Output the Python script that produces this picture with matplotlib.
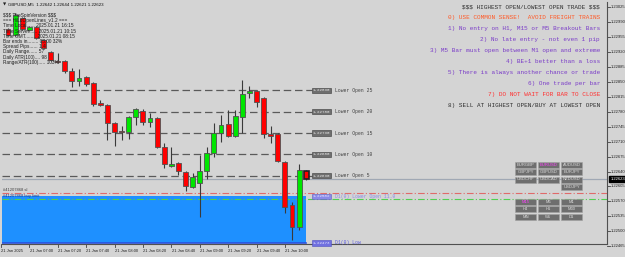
import matplotlib
matplotlib.use("Agg")
import matplotlib.pyplot as plt
from matplotlib.patches import Rectangle

plt.rcParams["text.parse_math"] = False

W, H = 625, 257

# M5 candles, 21 Jan 06:45 .. 10:15
opens = [1.22974, 1.22960, 1.22999, 1.22972, 1.22978, 1.22948, 1.22920, 1.22899, 1.22899, 1.22875,
         1.22852, 1.22861, 1.22847, 1.22800, 1.22796, 1.22754, 1.22735, 1.22733, 1.22768, 1.22782,
         1.22756, 1.22765, 1.22697, 1.22653, 1.22660, 1.22639, 1.22604, 1.22613, 1.22641, 1.22683,
         1.22730, 1.22751, 1.22723, 1.22768, 1.22824, 1.22828, 1.22812, 1.22728, 1.22728, 1.22662,
         1.22562, 1.22510, 1.22642]
highs = [1.22976, 1.23011, 1.23002, 1.22980, 1.22980, 1.22950, 1.22922, 1.22917, 1.22901, 1.22882,
         1.22880, 1.22863, 1.22849, 1.22807, 1.22798, 1.22756, 1.22747, 1.22770, 1.22789, 1.22786,
         1.22777, 1.22768, 1.22707, 1.22697, 1.22662, 1.22641, 1.22637, 1.22679, 1.22697, 1.22754,
         1.22772, 1.22784, 1.22784, 1.22854, 1.22840, 1.22830, 1.22814, 1.22747, 1.22730, 1.22665,
         1.22569, 1.22658, 1.22644]
lows = [1.22958, 1.22958, 1.22972, 1.22968, 1.22950, 1.22927, 1.22899, 1.22894, 1.22871, 1.22838,
        1.22840, 1.22840, 1.22793, 1.22793, 1.22714, 1.22700, 1.22714, 1.22716, 1.22749, 1.22749,
        1.22744, 1.22695, 1.22648, 1.22651, 1.22632, 1.22594, 1.22601, 1.22534, 1.22623, 1.22674,
        1.22709, 1.22721, 1.22721, 1.22730, 1.22812, 1.22791, 1.22718, 1.22707, 1.22662, 1.22543,
        1.22480, 1.22503, 1.22621]
closes = [1.22960, 1.23006, 1.22974, 1.22978, 1.22952, 1.22929, 1.22901, 1.22896, 1.22875, 1.22852,
          1.22859, 1.22845, 1.22798, 1.22796, 1.22754, 1.22733, 1.22733, 1.22768, 1.22786, 1.22756,
          1.22765, 1.22697, 1.22658, 1.22658, 1.22641, 1.22606, 1.22627, 1.22641, 1.22683, 1.22730,
          1.22749, 1.22723, 1.22770, 1.22821, 1.22828, 1.22803, 1.22728, 1.22723, 1.22665, 1.22557,
          1.22510, 1.22644, 1.22623]

level_prices = [1.22830, 1.22780, 1.22730, 1.22680, 1.22630]
level_names = ["Lower Open 25", "Lower Open 20", "Lower Open 15", "Lower Open 10", "Lower Open 5"]
d1_lower_open = 1.22582
d1_low = 1.22473
bid = 1.22623
sl_price = 1.22590
entry_price = 1.22576

price_ticks = [1.23025, 1.22990, 1.22955, 1.22920, 1.22885, 1.22850, 1.22815, 1.22780, 1.22745,
               1.22710, 1.22675, 1.22640, 1.22605, 1.22570, 1.22535, 1.22500, 1.22465]
time_tick_bars = [-1, 3, 7, 11, 15, 19, 23, 27, 31, 35, 39]
time_labels = ["21 Jan 2025", "21 Jan 07:00", "21 Jan 07:20", "21 Jan 07:40", "21 Jan 08:00",
               "21 Jan 08:20", "21 Jan 08:40", "21 Jan 09:00", "21 Jan 09:20", "21 Jan 09:40",
               "21 Jan 10:00"]

info_lines = ["$$$ TheSpinVersion $$$", "=== HiLoOpenLines_v1.2 ===",
              "Time Local...... 2025.01.21 16:15", "Time Server...... 2025.01.21 10:15",
              "Time GMT........ 2025.01.21 08:15", "Bar ends in........ 05:00 32%",
              "Spread Pips...... 1.4", "Daily Range...... 57", "Daily ATR(100).... 98",
              "Range/ATR(100)..... 103%"]
rules = ["$$$ HIGHEST OPEN/LOWEST OPEN TRADE $$$",
         "0) USE COMMON SENSE!  AVOID FREIGHT TRAINS",
         "1) No entry on H1, M15 or M5 Breakout Bars",
         "2) No late entry - not even 1 pip",
         "3) M5 Bar must open between M1 open and extreme",
         "4) BE+1 better than a loss",
         "5) There is always another chance or trade",
         "6) One trade per bar",
         "7) DO NOT WAIT FOR BAR TO CLOSE",
         "8) SELL AT HIGHEST OPEN/BUY AT LOWEST OPEN"]
rule_colors = ["#303030", "#ff5a28", "#7a3cc8", "#7a3cc8", "#7a3cc8", "#7a3cc8",
               "#7a3cc8", "#7a3cc8", "#ff3030", "#303030"]
symbols = [["EURGBP", "EURUSD", "AUDUSD"], ["GBPJPY", "GBPUSD", "EURJPY"],
           ["USDCHF", "USDCAD", "NZDUSD"], ["", "", "USDJPY"]]
frames = [["M15", "M5", "M1"], ["H4", "H1", "M30"], ["MN", "W1", "D1"]]
active = ["EURUSD", "M15"]

BG = "#d4d4d4"
MONO = "Liberation Mono"
SANS = "Liberation Sans"

fig = plt.figure(figsize=(W / 100, H / 100), dpi=100, facecolor=BG)
ax = fig.add_axes([2 / W, 13 / H, 605 / W, 242 / H], facecolor=BG)

px_per_bar = 7.1
x0 = (2 - 8) / px_per_bar
x1 = (607 - 8) / px_per_bar
ax.set_xlim(x0, x1)
ax.set_ylim(1.224704, 1.230367)
for s in ax.spines.values():
    s.set_color("#505050")
    s.set_linewidth(0.8)
ax.spines["top"].set_visible(False)
ax.spines["left"].set_visible(False)
ax.set_xticks([])
ax.set_yticks([])


def fx(x):
    return x / W


def fy(y):
    return 1 - y / H


# D1 zone
ax.add_patch(Rectangle((x0, d1_low), 42.0 - x0, d1_lower_open - d1_low,
                       facecolor="#1e90ff", edgecolor="none", zorder=1))
ax.plot([x0, 42.0], [d1_low, d1_low], color="#2a50e0", lw=1.2, zorder=1.5)

# Lower Open levels
for p, name in zip(level_prices, level_names):
    ax.plot([x0, 42.8], [p, p], color="#5a5a5a", lw=0.9, ls=(0, (6, 3)), zorder=2)
    ax.text(42.9, p, f"{p:.5f}", fontsize=3.0, family=MONO, color="#e8e8e8", va="center",
            bbox=dict(boxstyle="square,pad=0.15", fc="#6e6e6e", ec="#3a3a3a", lw=0.4), zorder=6)
    ax.text(46.0, p, name, fontsize=3.4, family=MONO, color="#404040", va="center", zorder=6)

ax.text(42.9, d1_lower_open, f"{d1_lower_open:.5f}", fontsize=3.0, family=MONO, color="#e8e8ff",
        va="center", bbox=dict(boxstyle="square,pad=0.15", fc="#8a8ae8", ec="#6060c0", lw=0.4), zorder=6)
ax.text(46.0, d1_lower_open, "D1(0) Lower Open 11.0", fontsize=3.4, family=MONO, color="#8a8ae8",
        va="center", zorder=6)
ax.text(42.9, d1_low, f"{d1_low:.5f}", fontsize=3.0, family=MONO, color="#e8e8ff",
        va="center", bbox=dict(boxstyle="square,pad=0.15", fc="#7070e0", ec="#5050c0", lw=0.4), zorder=6)
ax.text(46.0, d1_low, "D1(0) Low", fontsize=3.4, family=MONO, color="#5a5ae0", va="center", zorder=6)

# order lines and bid line
ax.axhline(sl_price, color="#e06a6a", lw=0.8, ls=(0, (6, 2, 1, 2)), zorder=2)
ax.axhline(entry_price, color="#50d050", lw=0.8, ls=(0, (6, 2, 1, 2)), zorder=2)
ax.axhline(bid, color="#a0a8b4", lw=0.9, zorder=2)
ax.text(x0 + 0.2, sl_price + 0.00003, "#41207868 sl", fontsize=3.0, family=SANS, color="#404040",
        va="bottom", zorder=6)
ax.text(x0 + 0.2, entry_price + 0.00001, "#41207868 buy limit", fontsize=3.0, family=SANS,
        color="#1a3a90", va="bottom", zorder=6)

# candles
for i, (o, h, l, c) in enumerate(zip(opens, highs, lows, closes)):
    up = c >= o
    col = "#00e600" if up else "#ff0000"
    ax.vlines(i, l, h, color="#3a3a3a", lw=0.8, zorder=3)
    lo, hi = min(o, c), max(o, c)
    hgt = max(hi - lo, 0.000012)
    edge = "#202020" if i == len(opens) - 1 else "#505050"
    ax.add_patch(Rectangle((i - 0.34, lo), 0.68, hgt, facecolor=col, edgecolor=edge,
                           lw=0.6 if i < len(opens) - 1 else 1.2, zorder=4))

# price axis
tr = ax.get_yaxis_transform()
for p in price_ticks:
    ax.plot([1.0, 1.005], [p, p], transform=tr, color="#404040", lw=0.6, clip_on=False)
    ax.text(1.0065, p, f"{p:.5f}", transform=tr, fontsize=3.0, family=SANS, color="#202020",
            va="center", ha="left", clip_on=False)
ax.text(1.0055, bid, f"{bid:.5f}", transform=tr, fontsize=3.0, family=SANS, color="white",
        va="center", ha="left", clip_on=False,
        bbox=dict(boxstyle="square,pad=0.25", fc="black", ec="black"), zorder=10)

# time axis
trx = ax.get_xaxis_transform()
for b, lab in zip(time_tick_bars, time_labels):
    ax.plot([b, b], [0, -0.012], transform=trx, color="#404040", lw=0.6, clip_on=False)
    ax.text(b + 0.05, -0.02, lab, transform=trx, fontsize=2.9, family=SANS, color="#202020",
            va="top", ha="left", clip_on=False)

# header and info block
fig.text(fx(3), fy(4.5), "\u25bc", fontsize=3, color="#202020", va="center")
fig.text(fx(8), fy(4.5), "GBPUSD,M5  1.22642 1.22644 1.22621 1.22623", fontsize=3.2,
         family=SANS, color="#101010", va="center")
for k, line in enumerate(info_lines):
    fig.text(fx(3), fy(15.5 + 5.2 * k), line, fontsize=3.4, family=SANS, color="#202020",
             va="center", zorder=8)

for k, (line, col) in enumerate(zip(rules, rule_colors)):
    fig.text(fx(600), fy(7 + 10.9 * k), line, fontsize=4.3, family=MONO, color=col,
             va="center", ha="right")

# buttons
btn_x = [515, 538, 561]
for r, row in enumerate(symbols):
    for c, name in enumerate(row):
        if not name:
            continue
        yc = 164.7 + 7.4 * r
        fig.add_artist(Rectangle((fx(btn_x[c]), fy(yc + 3)), 21 / W, 6 / H, transform=fig.transFigure,
                                 facecolor="#6e6e6e", edgecolor="#a0a0a0", lw=0.4))
        fig.text(fx(btn_x[c] + 10.5), fy(yc), name, fontsize=3.0, family=SANS,
                 color="#ff40ff" if name in active else "#dcdcdc", ha="center", va="center")
for r, row in enumerate(frames):
    for c, name in enumerate(row):
        yc = 201.7 + 7.5 * r
        fig.add_artist(Rectangle((fx(btn_x[c]), fy(yc + 3)), 21 / W, 6 / H, transform=fig.transFigure,
                                 facecolor="#6e6e6e", edgecolor="#a0a0a0", lw=0.4))
        fig.text(fx(btn_x[c] + 10.5), fy(yc), name, fontsize=3.0, family=SANS,
                 color="#ff40ff" if name in active else "#dcdcdc", ha="center", va="center")

fig.savefig("out.png", dpi=100, facecolor=BG)
